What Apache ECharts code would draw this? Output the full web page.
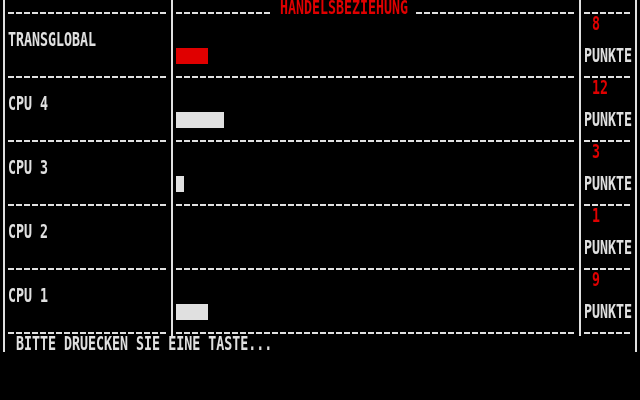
<!DOCTYPE html>
<html>
<head>
<meta charset="utf-8">
<title>Handelsbeziehung</title>
<script src="https://cdn.jsdelivr.net/npm/echarts@6.0.0/dist/echarts.min.js"></script>
<style>
  html, body { margin: 0; padding: 0; background: #000; }
  #chart-handel { width: 640px; height: 400px; }
</style>
</head>
<body>
<div id="chart-handel"></div>
<script>
// ============================================================
// Daten (vom Bildschirm abgelesen)
// ============================================================

var PLAYER_NAMES = ['TRANSGLOBAL', 'CPU 4', 'CPU 3', 'CPU 2', 'CPU 1'];
var PLAYER_POINTS = [8, 12, 3, 1, 9];
// Balkenlaenge so wie gezeichnet, in Textzellen (8px)
var BAR_CELLS = [4, 6, 1, 0, 4];

var TITLE_TEXT = 'HANDELSBEZIEHUNG';
var UNIT_TEXT = 'PUNKTE';
var PROMPT_TEXT = 'BITTE DRUECKEN SIE EINE TASTE...';

var WHITE = '#e0e0e0';
var RED = '#e00000';

// Textmodus-Schrift: hohe, schmale Monospace-Zeichen (8x16 Zellen)
var FONT_FAMILY = '"DejaVu Sans Mono", "Liberation Mono", monospace';
var FONT_SIZE = 19;
var FONT_SCALE_X = 0.7;
var TEXT_DY = 1;

// ============================================================
// Hilfsfunktionen
// ============================================================

function textEl(x, y, str, color, align) {
  return {
    type: 'text',
    x: x,
    y: y + TEXT_DY,
    scaleX: FONT_SCALE_X,
    silent: true,
    style: {
      text: str,
      fill: color,
      fontSize: FONT_SIZE,
      fontFamily: FONT_FAMILY,
      fontWeight: 'bold',
      align: align || 'left',
      verticalAlign: 'middle'
    }
  };
}

function lineEl(x1, y1, x2, y2, dashed) {
  return {
    type: 'line',
    silent: true,
    shape: { x1: x1, y1: y1, x2: x2, y2: y2 },
    style: {
      stroke: WHITE,
      lineWidth: 2,
      lineCap: 'butt',
      lineDash: dashed ? [6, 2] : null
    }
  };
}

// Rahmen wie im Textmodus: senkrechte Striche und gestrichelte Trennzeilen
function buildFrame() {
  var els = [];
  els.push(lineEl(4, 0, 4, 352, false));
  els.push(lineEl(172, 0, 172, 336, false));
  els.push(lineEl(580, 0, 580, 336, false));
  els.push(lineEl(636, 0, 636, 352, false));

  for (var k = 0; k <= PLAYER_NAMES.length; k++) {
    var y = 13 + k * 64;
    els.push(lineEl(8, y, 168, y, true));
    if (k === 0) {
      // Luecke fuer die Ueberschrift
      els.push(lineEl(176, y, 272, y, true));
      els.push(lineEl(416, y, 576, y, true));
    } else {
      els.push(lineEl(176, y, 576, y, true));
    }
    els.push(lineEl(584, y, 632, y, true));
  }

  els.push(textEl(344, 8, TITLE_TEXT, RED, 'center'));
  els.push(textEl(16, 344, PROMPT_TEXT, WHITE, 'left'));
  return els;
}

// Beschriftung je Zeile: Name links, Punkte und "PUNKTE" rechts
function renderRowText(params, api) {
  var idx = api.value(1);
  var left = api.coord([0, idx]);
  var right = api.coord([50, idx]);
  var cy = left[1];
  return {
    type: 'group',
    children: [
      textEl(left[0] - 168, cy - 16, PLAYER_NAMES[idx], WHITE, 'left'),
      textEl(right[0] + 16, cy - 32, String(api.value(2)), RED, 'left'),
      textEl(right[0] + 8, cy, UNIT_TEXT, WHITE, 'left')
    ]
  };
}

// ============================================================
// Diagramm
// ============================================================

var chart = echarts.init(document.getElementById('chart-handel'), null, { renderer: 'canvas' });

chart.setOption({
  backgroundColor: '#000',
  animation: false,
  grid: { left: 176, top: 24, width: 400, height: 320 },
  xAxis: { type: 'value', min: 0, max: 50, show: false },
  yAxis: { type: 'category', data: PLAYER_NAMES, inverse: true, show: false },
  graphic: { elements: buildFrame() },
  series: [
    {
      name: 'Balken',
      type: 'bar',
      barWidth: 16,
      data: BAR_CELLS,
      silent: true,
      itemStyle: {
        color: function(p) { return p.dataIndex === 0 ? RED : WHITE; }
      }
    },
    {
      name: 'Beschriftung',
      type: 'custom',
      clip: false,
      silent: true,
      renderItem: renderRowText,
      data: PLAYER_POINTS.map(function(p, i) { return [0, i, p]; })
    }
  ]
});
</script>
</body>
</html>
